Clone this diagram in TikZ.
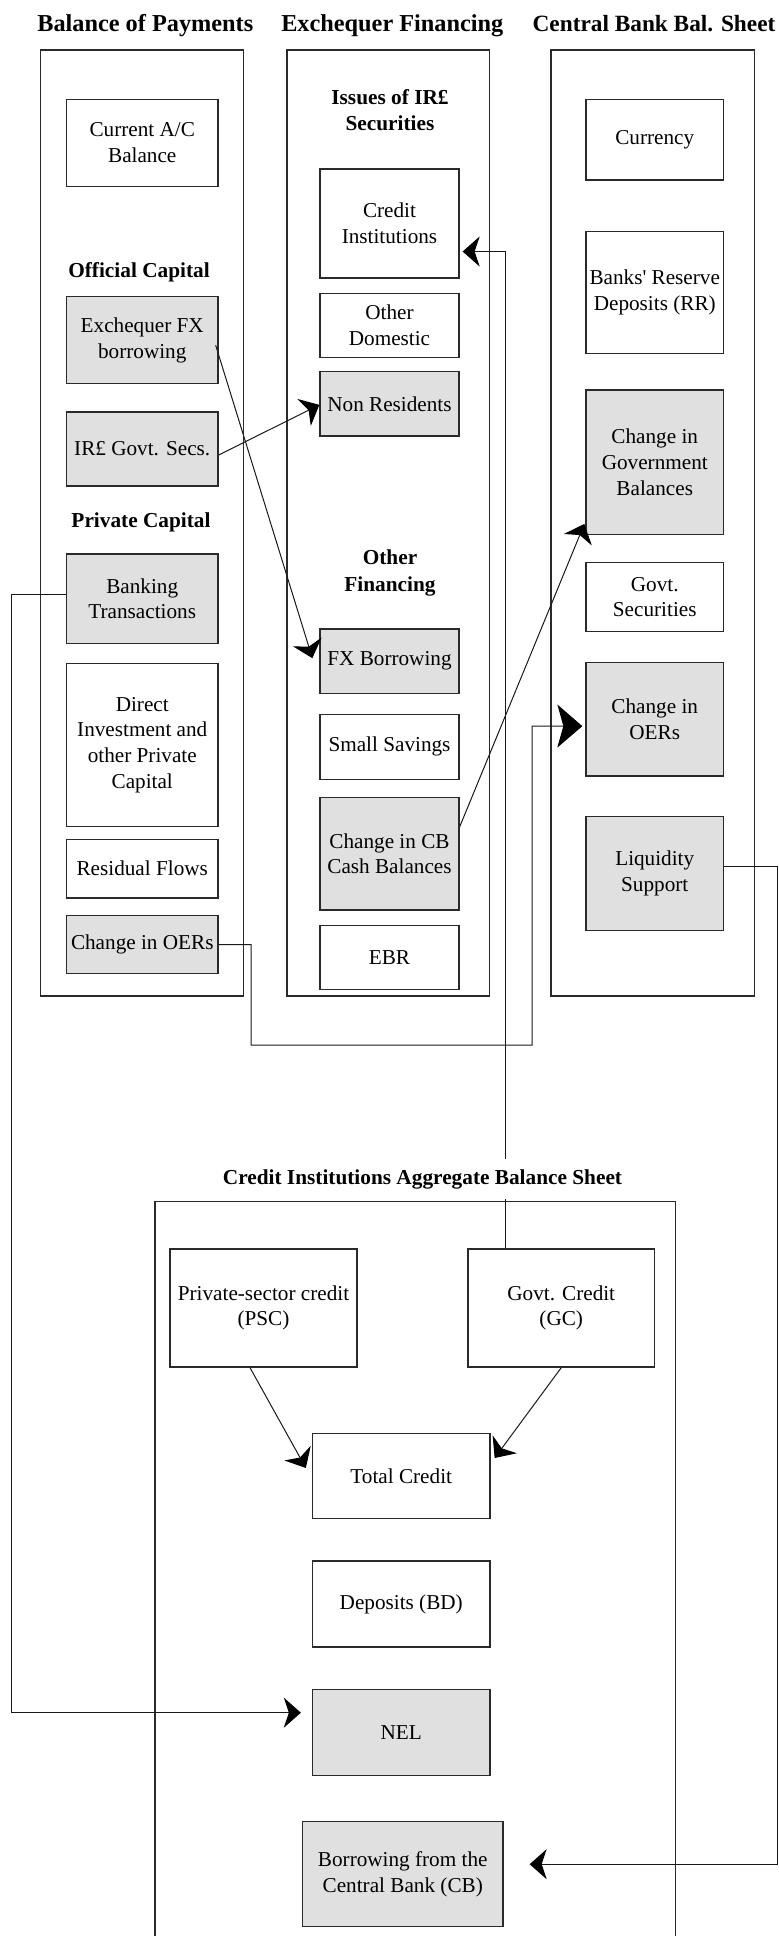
\documentclass[tikz,border=0pt]{standalone}
\usepackage{fontspec}
\setmainfont{Liberation Serif}
\usetikzlibrary{calc,arrows.meta}
\definecolor{shade}{HTML}{E0E0E0}
\definecolor{edge}{HTML}{2A2A2A}
\tikzset{
  panel/.style={draw=edge,line width=1.3pt,inner sep=0pt,anchor=center},
  box/.style={draw=edge,line width=1.3pt,fill=white,align=center,inner sep=0pt,
    font=\fontsize{21.2pt}{25.7pt}\selectfont,text=black},
  sbox/.style={box,fill=shade},
  ttl/.style={font=\fontsize{24.3pt}{28pt}\selectfont\bfseries,inner sep=0pt,anchor=base},
  sub/.style={font=\fontsize{21.3pt}{26.6pt}\selectfont\bfseries,inner sep=0pt,align=center},
  conn/.style={draw=black!90,line width=1pt},
  arr/.style={conn,-{Stealth[length=17pt,width=30pt,inset=5pt,fill=black,color=black]}},
  bigarr/.style={conn,-{Stealth[length=25pt,width=43pt,inset=6pt,fill=black,color=black]}},
}
\begin{document}
\begin{tikzpicture}[x=1pt,y=-1pt]
\useasboundingbox (0,0) rectangle (779,1936);
% titles
\node[ttl] (t1) at (145.3,31.5) {Balance of Payments};
\node[ttl] (t2) at (392.3,31.5) {Exchequer Financing};
\node[ttl,font=\fontsize{23.3pt}{28pt}\selectfont\bfseries] (t3) at (654,31.5) {Central Bank Bal. Sheet};
% panels
\node[panel,minimum width=203pt,minimum height=946pt] (bopP) at (142,523) {};
\node[panel,minimum width=202.5pt,minimum height=946pt] (exP) at (388.25,523) {};
\node[panel,minimum width=203.5pt,minimum height=946pt] (cbP) at (652.75,523) {};
\coordinate (ciBL) at (155,1936);
\coordinate (ciBR) at (675.5,1936);
\draw[draw=edge,line width=1.3pt] (ciBL) |- (675.5,1201.7) -- (ciBR);
% left column
\node[box,minimum width=151.5pt,minimum height=87pt] (curAC) at (142.25,142.8) {Current A/C\\Balance};
\node[sub,anchor=base] (offcap) at (139,277.5) {Official Capital};
\node[sbox,minimum width=151.5pt,minimum height=87pt] (exFX) at (142.25,340.2) {Exchequer FX\\borrowing};
\node[sbox,minimum width=151.5pt,minimum height=74pt] (irGov) at (142.25,449) {IR\pounds{} Govt. Secs.};
\node[sub,anchor=base] (privcap) at (141,527) {Private Capital};
\node[sbox,minimum width=151.5pt,minimum height=89.3pt] (bank) at (142.25,598.7) {Banking\\Transactions};
\node[box,minimum width=151.5pt,minimum height=163.4pt] (direct) at (142.25,745) {Direct\\Investment and\\other Private\\Capital};
\node[box,minimum width=151.5pt,minimum height=58.7pt] (resid) at (142.25,868.7) {Residual Flows};
\node[sbox,minimum width=151.5pt,minimum height=57.6pt] (oerL) at (142.25,944.5) {Change in OERs};
% middle column
\node[sub] (issues) at (390,110) {Issues of IR\pounds\\Securities};
\node[box,minimum width=139pt,minimum height=109pt] (credInst) at (389.5,223.5) {Credit\\Institutions};
\node[box,minimum width=139pt,minimum height=64.4pt] (otherDom) at (389.5,325.5) {Other\\Domestic};
\node[sbox,minimum width=139pt,minimum height=64.3pt] (nonRes) at (389.5,403.85) {Non Residents};
\node[sub] (othfin) at (390,573) {Other\\Financing};
\node[sbox,minimum width=139pt,minimum height=64.3pt] (fxBorr) at (389.5,661.15) {FX Borrowing};
\node[box,minimum width=139pt,minimum height=65pt] (small) at (389.5,746.8) {Small Savings};
\node[sbox,minimum width=139pt,minimum height=112.3pt] (cbCash) at (389.5,853.85) {Change in CB\\Cash Balances};
\node[box,minimum width=139pt,minimum height=64pt] (ebr) at (389.5,957.3) {EBR};
% right column
\node[box,minimum width=137.5pt,minimum height=80.7pt] (currency) at (654.75,139.65) {Currency};
\node[box,minimum width=137.5pt,minimum height=121.6pt] (banksRR) at (654.75,292.5) {Banks\textquotesingle{} Reserve\\Deposits (RR)};
\node[sbox,minimum width=137.5pt,minimum height=144.3pt] (govBal) at (654.75,462.15) {Change in\\Government\\Balances};
\node[box,minimum width=137.5pt,minimum height=69pt] (govSec) at (654.75,597.2) {Govt.\\Securities};
\node[sbox,minimum width=137.5pt,minimum height=113.7pt] (oerR) at (654.75,719.15) {Change in\\OERs};
\node[sbox,minimum width=137.5pt,minimum height=114.4pt] (liq) at (654.75,873.5) {Liquidity\\Support};
% bottom panel
\node[box,minimum width=187pt,minimum height=118pt] (psc) at (263.5,1308) {Private-sector credit\\(PSC)};
\node[box,minimum width=186.5pt,minimum height=118pt] (gc) at (561.25,1308) {Govt. Credit\\(GC)};
\node[box,minimum width=177.5pt,minimum height=85.4pt] (total) at (401.25,1476) {Total Credit};
\node[box,minimum width=177.5pt,minimum height=86pt] (deposits) at (401.25,1604) {Deposits (BD)};
\node[sbox,minimum width=177.5pt,minimum height=86pt] (nel) at (401.25,1732.7) {NEL};
\node[sbox,minimum width=200.5pt,minimum height=105pt] (borrow) at (402.75,1874.2) {Borrowing from the\\Central Bank (CB)};
% connectors
\draw[arr] ($(gc.north west)+(38.5,0)$) |- ($(credInst.east)+(3,28)$);
\draw[arr] ($(irGov.east)+(0,6)$) -- ($(nonRes.west)+(0,1)$);
\draw[arr] ($(exFX.east)+(-3,5)$) -- ($(fxBorr.west)+(-7,-3)$);
\draw[arr] ($(cbCash.east)+(0,-27)$) -- ($(govBal.south west)+(-1,-11)$);
\draw[bigarr] (oerL.east) -| (251,1045) -| (532,726) -- ($(oerR.west)+(-3,7)$);
\draw[arr] ($(bank.west)+(0,-4.5)$) -- ++(-54,0) |- ($(nel.west)+(-11,-20)$);
\draw[arr] ($(liq.east)+(0,-7)$) -- ++(53.5,0) |- ($(borrow.east)+(26,-10)$);
\draw[arr] ($(psc.south)+(-13.5,0)$) -- ($(total.west)+(-6,-8)$);
\draw[arr] (gc.south) -- ($(total.east)+(4,-18)$);
% bottom title (covers the vertical connector)
\node[sub,anchor=base,fill=white,inner xsep=4pt,inner ysep=10pt] (ciT) at (422.5,1184) {Credit Institutions Aggregate Balance Sheet};
\end{tikzpicture}
\end{document}
